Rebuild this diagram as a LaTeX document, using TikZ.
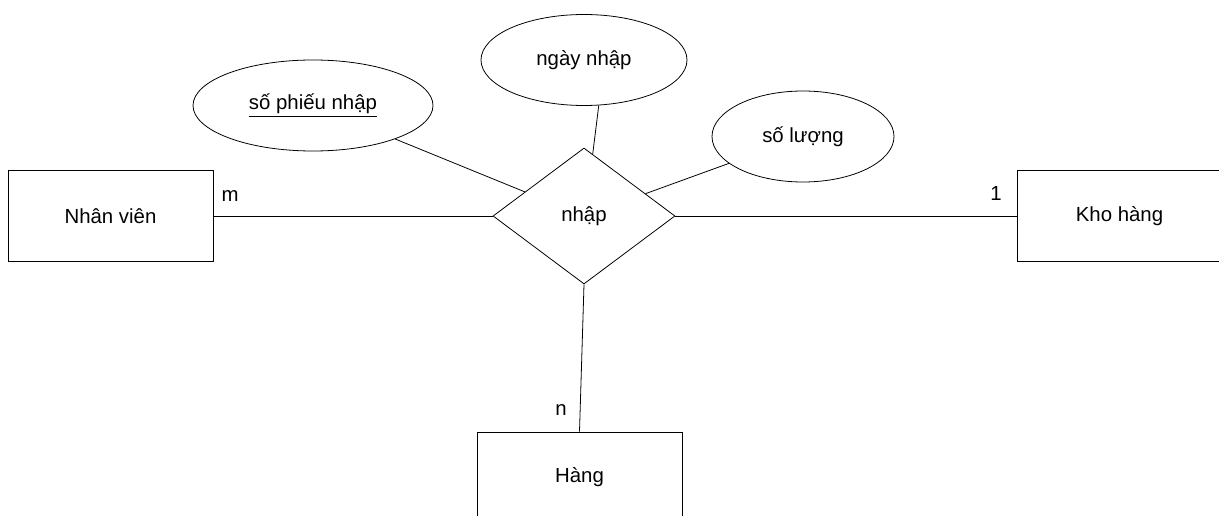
\documentclass[tikz,border=0pt]{standalone}
\usepackage{fontspec}
\setmainfont{Liberation Sans}
\usetikzlibrary{shapes.geometric}

\begin{document}
\begin{tikzpicture}[line width=0.45pt,
  font=\fontsize{11.6}{13}\selectfont,
  entity/.style={draw,rectangle,minimum width=4.1cm,minimum height=1.82cm,inner sep=0pt},
  attr/.style={draw,ellipse,minimum height=1.82cm,inner sep=0pt},
  rel/.style={draw,diamond,minimum width=3.64cm,minimum height=2.72cm,inner sep=0pt}]
 \useasboundingbox (0,0) rectangle (24.38,10.3);
 \begin{scope}
 \clip (0,0) rectangle (24.38,10.3);
  \node[entity] (e1) at (2.21,5.98) {Nhân viên};
 \node[entity] (e2) at (22.39,5.98) {Kho hàng};
  \node[entity] (e3) at (11.59,0.75) {Hàng};
 \end{scope}
   \node[rel] (r1) at (11.68,5.98) {nhập};
 \node[attr,minimum width=4.8cm] (a1) at (6.26,8.19) {\underline{số phiếu nhập}};
 \node[attr,minimum width=4.12cm] (a2) at (11.68,9.1) {ngày nhập};
  \node[attr,minimum width=3.64cm] (a3) at (16.06,7.57) {số lượng};
   \node (m) at (4.6,6.37) {m};
 \node (k) at (19.92,6.43) {1};
 \node (n) at (11.22,2.09) {n};
 \draw (r1) -- (e1);
 \draw (r1) -- (e2);
 \draw (r1.south) -- (e3.north);
 \draw (a1) -- (r1);
\draw (a2.-72) -- (r1.82);
\draw (a3) -- (r1);

\end{tikzpicture}
\end{document}
